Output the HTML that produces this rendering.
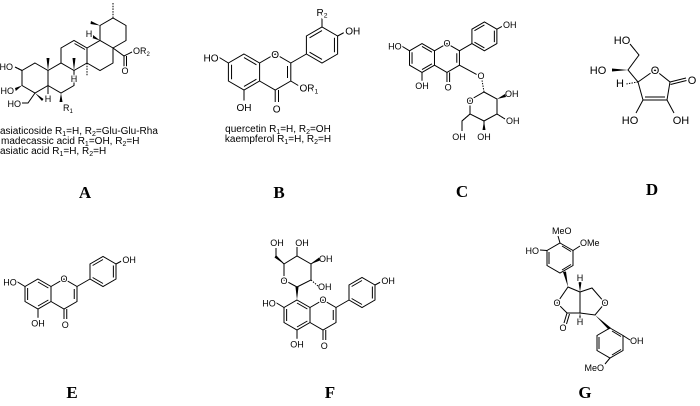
<!DOCTYPE html>
<html><head><meta charset="utf-8"><style>
html,body{margin:0;padding:0;background:#fff}
svg{display:block}
text{font-family:"Liberation Sans",sans-serif;fill:#000}
.a{paint-order:stroke;stroke:#fff;stroke-width:3px;stroke-linejoin:round}
.lbl{font-family:"Liberation Serif",serif;font-weight:bold;font-size:17px;text-anchor:middle}
.n{vector-effect:non-scaling-stroke}
</style></head><body>
<svg width="700" height="406" viewBox="0 0 700 406" xmlns="http://www.w3.org/2000/svg">
<defs>
<g id="flav" fill="none" stroke="#000" stroke-width="1">
<path class="n" d="M0,-12 L10.4,-6 L10.4,6 L0,12 L-10.4,6 L-10.4,-6 Z"/>
<path class="n" d="M0,-9.6 L8.3,-4.8 M8.3,4.8 L0,9.6 M-8.3,4.8 L-8.3,-4.8"/>
<path class="n" d="M10.4,-6 L20.8,-12 L31.2,-6 L31.2,6 L20.8,12 L10.4,6"/>
<path class="n" d="M29,-4 L29,4 M20.8,12 L20.8,20 M23,12 L23,20"/>
<path class="n" d="M0,12 L0,19 M-10.4,-6 L-17,-10 M31.2,-6 L41.6,-12"/>
<path class="n" d="M41.6,-12 L41.6,-24 L52,-30 L62.4,-24 L62.4,-12 L52,-6 Z"/>
<path class="n" d="M43.7,-22.8 L52,-27.6 M60.3,-22.8 L60.3,-13.2 M52,-8.4 L43.7,-13.2 M62.4,-24 L68,-27"/>
</g>
</defs>

<!-- A -->
<g fill="none" stroke="#000" stroke-width="1">
<path d="M35,63 L48,70.5 L48,85.5 L35,93 L22,85.5 L22,70.5 Z"/>
<path d="M48,70.5 L61,63 L74,70.5 L74,85.5 L61,93 L48,85.5"/>
<path d="M61,63 L61,48 L74,40.5 L87,48 L87,63 L74,70.5"/>
<path d="M74.5,43.5 L85,49.5"/>
<path d="M87,48 L100,40.5 L113,48 L113,63 L100,70.5 L87,63"/>
<path d="M100,40.5 L100,25.5 L113,18 L126,25.5 L126,40.5 L113,48"/>
<path d="M113,48 L124,56 L134,51 M124,56 L124,68 M126.5,56 L126.5,68"/>
<path d="M35,93 L28,103 L21,103 M48,85.5 L48,94 M74,70.5 L74,76 M22,70.5 L15,67"/>
<path d="M87,63 L87,76" stroke-dasharray="1.5,1.2"/>
<path d="M113,18 L113,3" stroke-dasharray="1.5,1.2"/>
<path d="M22,70.5 L15,67" stroke-dasharray="1.5,1.2"/>
</g>
<g fill="#000">
<polygon points="48,70.5 46.5,58 49.5,58"/>
<polygon points="74,70.5 72.5,58 75.5,58"/>
<polygon points="22,85.5 15,88 15.8,91"/>
<polygon points="35,93 42,101 43.5,99"/>
<polygon points="61,93 59.5,102 62.5,102"/>
<polygon points="100,25.5 91,21 90.5,24"/>
<polygon points="100,40.5 93,35 92,38"/>
</g>
<g font-size="9">
<text x="13" y="70" text-anchor="end" class="a">HO</text>
<text x="14" y="94" text-anchor="end" class="a">HO</text>
<text x="21" y="107" text-anchor="end" class="a">HO</text>
<text x="48" y="102" text-anchor="middle" class="a">H</text>
<text x="74" y="82" text-anchor="middle" class="a">H</text>
<text x="89" y="37" text-anchor="middle" class="a">H</text>
<text x="63" y="111" class="a">R<tspan font-size="6" dy="2">1</tspan></text>
<text x="133" y="54" class="a">OR<tspan font-size="6" dy="2">2</tspan></text>
<text x="125" y="74" text-anchor="middle" class="a">O</text>
</g>
<g font-size="10">
<text x="0" y="134">asiaticoside R<tspan font-size="7" dy="2">1</tspan><tspan dy="-2">=H, R</tspan><tspan font-size="7" dy="2">2</tspan><tspan dy="-2">=Glu-Glu-Rha</tspan></text>
<text x="1" y="144">madecassic acid R<tspan font-size="7" dy="2">1</tspan><tspan dy="-2">=OH, R</tspan><tspan font-size="7" dy="2">2</tspan><tspan dy="-2">=H</tspan></text>
<text x="0" y="154">asiatic acid R<tspan font-size="7" dy="2">1</tspan><tspan dy="-2">=H, R</tspan><tspan font-size="7" dy="2">2</tspan><tspan dy="-2">=H</tspan></text>
</g>
<text class="lbl" x="85" y="198">A</text>

<!-- B -->
<g transform="translate(244,72) scale(1.5)">
<use href="#flav"/>
<path class="n" d="M31.2,6 L37,9.5 M52,-30 L52,-36" stroke="#000" fill="none"/>
<g font-size="6.7">
<text x="-17" y="-7" text-anchor="end" class="a" style="stroke-width:2px">HO</text>
<text x="20.8" y="-9.5" text-anchor="middle" class="a" style="stroke-width:2px">O</text>
<text x="0" y="26" text-anchor="middle" class="a">OH</text>
<text x="21.8" y="27" text-anchor="middle" class="a">O</text>
<text x="37" y="13" class="a">OR<tspan font-size="4.5" dy="1.3">1</tspan></text>
<text x="52" y="-37.5" text-anchor="middle" class="a">R<tspan font-size="4.5" dy="1.3">2</tspan></text>
<text x="67.5" y="-25" class="a">OH</text>
</g>
</g>
<g font-size="10" text-anchor="middle">
<text x="278" y="132">quercetin R<tspan font-size="7" dy="2">1</tspan><tspan dy="-2">=H, R</tspan><tspan font-size="7" dy="2">2</tspan><tspan dy="-2">=OH</tspan></text>
<text x="278" y="142">kaempferol R<tspan font-size="7" dy="2">1</tspan><tspan dy="-2">=H, R</tspan><tspan font-size="7" dy="2">2</tspan><tspan dy="-2">=H</tspan></text>
</g>
<text class="lbl" x="279" y="198">B</text>

<!-- C -->
<g transform="translate(422,58) scale(1.2)">
<use href="#flav"/>
<path class="n" d="M31.2,6 L47,14.5" stroke="#000" fill="none"/>
<g font-size="7.5">
<text x="-17" y="-7" text-anchor="end" class="a" style="stroke-width:2px">HO</text>
<text x="20.8" y="-9.5" text-anchor="middle" class="a" style="stroke-width:2px">O</text>
<text x="0" y="26" text-anchor="middle" class="a">OH</text>
<text x="21.8" y="27" text-anchor="middle" class="a">O</text>
<text x="67.5" y="-25" class="a">OH</text>
</g>
</g>
<g fill="none" stroke="#000" stroke-width="1">
<path d="M484,92 L497,99 L497,114 L484,121 L470,114 L470,100 Z"/>
<path d="M497,114 L505,119 M484,121 L484,130 M470,114 L462,121 L462,131"/>
<path d="M484,92 L482,80" stroke-dasharray="1.4,1.2"/>
<path d="M497,114 L505,119 M470,114 L462,121" stroke-dasharray="1.4,1.2"/>
</g>
<g fill="#000"><polygon points="497,99 505,94 506,97"/><polygon points="484,121 482.5,130 485.5,130"/></g>
<g font-size="9">
<text x="481" y="79" text-anchor="middle" class="a">O</text>
<text x="470" y="104" text-anchor="middle" class="a">O</text>
<text x="505" y="97">OH</text>
<text x="506" y="124">OH</text>
<text x="484" y="140" text-anchor="middle">OH</text>
<text x="459" y="140" text-anchor="middle">OH</text>
</g>
<text class="lbl" x="462" y="197">C</text>

<!-- D -->
<g fill="none" stroke="#000" stroke-width="1">
<path d="M638,82 L655,70 L670,82 L667,100 L643,100 Z"/>
<path d="M645,97 L665,97 M670,82 L686,78 M670.5,84.5 L686.5,80.5"/>
<path d="M638,82 L628,70 L639,55 L630,44 M643,100 L636,113 M667,100 L674,113"/>
<path d="M638,82 L626,84" stroke-dasharray="1.4,1.2"/>
</g>
<polygon points="628,70 612,68.5 612,71.5" fill="#000"/>
<g font-size="11">
<text x="622" y="44" text-anchor="middle" class="a">HO</text>
<text x="598" y="74" text-anchor="middle" class="a">HO</text>
<text x="655" y="74" text-anchor="middle" class="a">O</text>
<text x="692" y="84" text-anchor="middle" class="a">O</text>
<text x="620" y="87" text-anchor="middle" class="a">H</text>
<text x="630" y="124" text-anchor="middle" class="a">HO</text>
<text x="681" y="124" text-anchor="middle" class="a">OH</text>
</g>
<text class="lbl" x="652" y="195">D</text>

<!-- E -->
<g transform="translate(38,294) scale(1.25)">
<use href="#flav"/>
<g font-size="7.2">
<text x="-17" y="-7" text-anchor="end" class="a" style="stroke-width:2px">HO</text>
<text x="20.8" y="-9.5" text-anchor="middle" class="a" style="stroke-width:2px">O</text>
<text x="0" y="26" text-anchor="middle" class="a">OH</text>
<text x="21.8" y="27" text-anchor="middle" class="a">O</text>
<text x="67.5" y="-25" class="a">OH</text>
</g>
</g>
<text class="lbl" x="72" y="398">E</text>

<!-- F -->
<g transform="translate(297,315) scale(1.25)">
<use href="#flav"/>
<g font-size="7.2">
<text x="-17" y="-7" text-anchor="end" class="a" style="stroke-width:2px">HO</text>
<text x="20.8" y="-9.5" text-anchor="middle" class="a" style="stroke-width:2px">O</text>
<text x="0" y="26" text-anchor="middle" class="a">OH</text>
<text x="21.8" y="27" text-anchor="middle" class="a">O</text>
<text x="67.5" y="-25" class="a">OH</text>
</g>
</g>
<g fill="none" stroke="#000" stroke-width="1">
<path d="M297,287 L284,280 L284,264 L297,256 L311,264 L311,280 Z"/>
<path d="M284,264 L276,256 L276,248 M311,264 L318,259 M297,256 L297,247"/>
<path d="M311,280 L318,286 M297,256 L297,247" stroke-dasharray="1.4,1.2"/>
</g>
<g fill="#000"><polygon points="297,300 295.5,287 298.5,287"/><polygon points="311,264 319,257.5 320,260.5"/><polygon points="284,264 276,255 274.5,257.5"/></g>
<g font-size="9">
<text x="284" y="284" text-anchor="middle" class="a">O</text>
<text x="318" y="290">OH</text>
<text x="319" y="262">OH</text>
<text x="302" y="246" text-anchor="middle">OH</text>
<text x="277" y="246" text-anchor="middle">OH</text>
</g>
<text class="lbl" x="330" y="398">F</text>

<!-- G -->
<g fill="none" stroke="#000" stroke-width="1">
<path d="M560,243 L573,250.5 L573,265.5 L560,273 L547,265.5 L547,250.5 Z"/>
<path d="M562,246 L571,251.5 M571,264.5 L562,270 M549,264 L549,252"/>
<path d="M560,243 L558,236 M573,250.5 L580,246 M547,250.5 L540,250"/>
<path d="M568,287 L580,292 L580,313 L567,313 L557,303 Z"/>
<path d="M580,292 L592,288 L605,303 L595,315 L580,313"/>
<path d="M567,313 L564,323 M569.5,314 L566.5,324"/>
<path d="M610,328 L623,335.5 L623,350.5 L610,358 L597,350.5 L597,335.5 Z"/>
<path d="M612,331 L621,336.5 M621,349.5 L612,355 M599,349 L599,337"/>
<path d="M623,335.5 L630,340 M610,358 L605,364"/>
</g>
<g fill="#000">
<polygon points="568,287 563,272 566,271.5"/>
<polygon points="595,315 611,328 608.5,329.5"/>
<polygon points="580,292 578.5,282 581.5,282"/>
<polygon points="580,313 578.5,322 581.5,322"/>
</g>
<g font-size="9">
<text x="552" y="234">MeO</text>
<text x="580" y="246">OMe</text>
<text x="539" y="254" text-anchor="end">HO</text>
<text x="580" y="281" text-anchor="middle" class="a">H</text>
<text x="557" y="306" text-anchor="middle" class="a">O</text>
<text x="605" y="306" text-anchor="middle" class="a">O</text>
<text x="563" y="331" text-anchor="middle" class="a">O</text>
<text x="580" y="325" text-anchor="middle" class="a">H</text>
<text x="630" y="344">OH</text>
<text x="604" y="371" text-anchor="end">MeO</text>
</g>
<text class="lbl" x="585" y="398">G</text>
</svg>
</body></html>
